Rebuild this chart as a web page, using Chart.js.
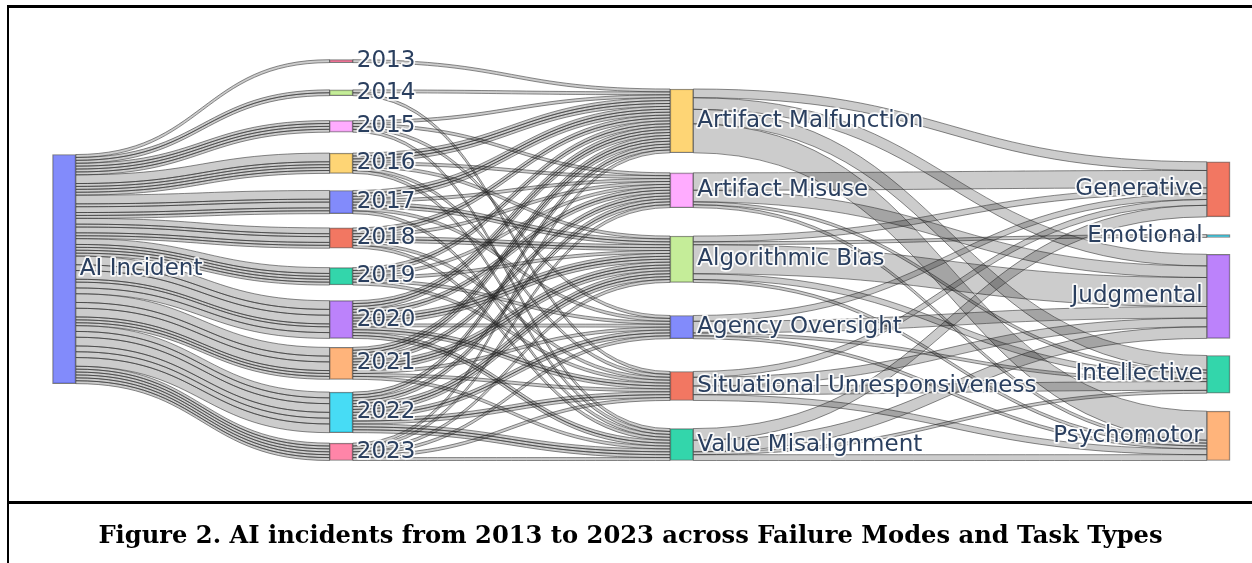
<!DOCTYPE html>
<html>
<head>
<meta charset="utf-8">
<script src="https://cdn.jsdelivr.net/npm/chart.js@4/dist/chart.umd.min.js"></script>
<style>
  html, body { margin: 0; padding: 0; background: #fff; }
  #wrap { position: relative; width: 1252px; height: 563px; overflow: hidden; }
  #chart { position: absolute; left: 0; top: 0; }
  .rule { position: absolute; background: #000; }
  #caption {
    position: absolute; left: 9px; right: 0; top: 520px;
    text-align: center; font: bold 24.2px "DejaVu Serif", serif; color: #000;
  }
</style>
</head>
<body>
<div id="wrap">
  <canvas id="chart" width="1252" height="563"></canvas>
  <div class="rule" style="left:7px; top:5px; width:1245px; height:3px"></div>
  <div class="rule" style="left:7px; top:5px; width:2px; height:558px"></div>
  <div class="rule" style="left:7px; top:501px; width:1245px; height:3px"></div>
  <div id="caption">Figure 2. AI incidents from 2013 to 2023 across Failure Modes and Task Types</div>
</div>
<script>
// --- data (incident counts) ---
const rootLabel = 'AI Incident'
const years = ['2013', '2014', '2015', '2016', '2017', '2018', '2019', '2020', '2021', '2022', '2023']
const failureModes = ['Artifact Malfunction', 'Artifact Misuse', 'Algorithmic Bias', 'Agency Oversight', 'Situational Unresponsiveness', 'Value Misalignment']
const taskTypes = ['Generative', 'Emotional', 'Judgmental', 'Intellective', 'Psychomotor']

// rows = years, cols = failure modes
const yearToFailure = [
  [1, 0, 0, 0, 0, 0],
  [1, 0, 0, 0, 1, 0],
  [1, 1, 0, 1, 0, 1],
  [3, 1, 1, 0, 1, 1],
  [3, 1, 2, 1, 0, 1],
  [2, 1, 2, 0, 1, 1],
  [2, 1, 1, 1, 1, 0],
  [3, 2, 3, 1, 2, 2],
  [3, 2, 3, 1, 1, 1],
  [2, 2, 3, 2, 2, 3],
  [1, 1, 1, 1, 1, 1]
]
// rows = failure modes, cols = task types
const failureToTask = [
  [3, 0, 4, 5, 10],
  [6, 0, 4, 1, 1],
  [2, 1, 10, 2, 1],
  [2, 0, 4, 1, 1],
  [2, 0, 3, 3, 2],
  [4, 0, 4, 1, 2]
]

// --- colours ---
const rootColor = ['#636efa']
const yearColors = ['#ff6692', '#b6e880', '#ff97ff', '#fecb52', '#636efa', '#ef553b', '#00cc96', '#ab63fa', '#ffa15a', '#19d3f3', '#ff6692']
const failureColors = ['#fecb52', '#ff97ff', '#b6e880', '#636efa', '#ef553b', '#00cc96']
const taskColors = ['#ef553b', '#19d3f3', '#ab63fa', '#00cc96', '#ffa15a']

// --- layout (column positions on x scale, spacing between nodes in value units) ---
const colX = [0, 0.24, 0.535, 1]
const colBase = [26.5, 0, 0, 0]
const colGaps = [
  [],
  [9.4, 8.6, 7.2, 5.9, 4.9, 6.7, 5.4, 3.1, 4.4, 3.6],
  [6.9, 9.8, 11.4, 11.3, 9.7],
  [6.1, 5.8, 5.9, 6.2]
]
const nodeWidth = 23.3

function hexA(hex, a) {
  const n = parseInt(hex.slice(1), 16)
  return `rgba(${n >> 16}, ${(n >> 8) & 255}, ${n & 255}, ${a})`
}
const sum = arr => arr.reduce((a, b) => a + b, 0)

// build nodes
const columns = [[], [], [], []]
function addColumn(col, labels, values, colors) {
  labels.forEach((label, i) => {
    columns[col].push({ col, label, value: values[i], color: colors[i], out: [], inc: [] })
  })
}
const yearTotals = yearToFailure.map(sum)
const failureTotals = failureModes.map((_, f) => sum(yearToFailure.map(r => r[f])))
const taskTotals = taskTypes.map((_, t) => sum(failureToTask.map(r => r[t])))
addColumn(0, [rootLabel], [sum(yearTotals)], rootColor)
addColumn(1, years, yearTotals, yearColors)
addColumn(2, failureModes, failureTotals, failureColors)
addColumn(3, taskTypes, taskTotals, taskColors)

// stack each column from the bottom
columns.forEach((nodes, c) => {
  let y = colBase[c]
  for (let i = nodes.length - 1; i >= 0; i--) {
    nodes[i].lo = y
    nodes[i].hi = y + nodes[i].value
    y = nodes[i].hi + (i > 0 ? colGaps[c][i - 1] : 0)
  }
})
const allNodes = columns.flat()
const yMax = Math.max(...columns.map(n => n[0].hi))

// links
const links = []
function link(s, t, v) {
  const l = { s, t, v, k: links.length }
  links.push(l); s.out.push(l); t.inc.push(l)
}
// root -> year: one band per failure mode share
yearToFailure.forEach((row, y) => row.forEach(v => { if (v > 0) link(columns[0][0], columns[1][y], v) }))
// year -> failure mode: one strand per incident
yearToFailure.forEach((row, y) => row.forEach((v, f) => {
  for (let i = 0; i < v; i++) link(columns[1][y], columns[2][f], 1)
}))
// failure mode -> task type
failureToTask.forEach((row, f) => row.forEach((v, t) => { if (v > 0) link(columns[2][f], columns[3][t], v) }))

allNodes.forEach(n => {
  n.out.sort((a, b) => (b.t.hi - a.t.hi) || (a.k - b.k))
  n.inc.sort((a, b) => (b.s.hi - a.s.hi) || (a.k - b.k))
  let y = n.hi
  n.out.forEach(l => { l.sy1 = y; l.sy0 = y - l.v; y -= l.v })
  y = n.hi
  n.inc.forEach(l => { l.ty1 = y; l.ty0 = y - l.v; y -= l.v })
})

const linkPlugin = {
  id: 'sankeyLinks',
  beforeDatasetsDraw(chart) {
    const { ctx, scales: { x, y } } = chart
    ctx.save()
    ctx.fillStyle = 'rgba(0, 0, 0, 0.2)'
    ctx.strokeStyle = 'rgba(45, 45, 45, 0.55)'
    ctx.lineWidth = 1
    links.forEach(l => {
      const x0 = x.getPixelForValue(colX[l.s.col]) + nodeWidth / 2
      const x1 = x.getPixelForValue(colX[l.t.col]) - nodeWidth / 2
      const xm = (x0 + x1) / 2
      const a = y.getPixelForValue(l.sy1), b = y.getPixelForValue(l.ty1)
      const c = y.getPixelForValue(l.sy0), d = y.getPixelForValue(l.ty0)
      ctx.beginPath()
      ctx.moveTo(x0, a)
      ctx.bezierCurveTo(xm, a, xm, b, x1, b)
      ctx.lineTo(x1, d)
      ctx.bezierCurveTo(xm, d, xm, c, x0, c)
      ctx.closePath()
      ctx.fill()
      ctx.stroke()
    })
    ctx.restore()
  }
}

const labelPlugin = {
  id: 'sankeyLabels',
  afterDatasetsDraw(chart) {
    const { ctx, scales: { x, y } } = chart
    ctx.save()
    ctx.font = '23px "DejaVu Sans"'
    ctx.textBaseline = 'middle'
    ctx.lineJoin = 'round'
    allNodes.forEach(n => {
      const cx = x.getPixelForValue(colX[n.col])
      const cy = y.getPixelForValue((n.lo + n.hi) / 2)
      const last = n.col === columns.length - 1
      ctx.textAlign = last ? 'right' : 'left'
      const tx = last ? cx - nodeWidth / 2 - 4 : cx + nodeWidth / 2 + 4
      ctx.strokeStyle = 'rgba(255, 255, 255, 0.9)'
      ctx.lineWidth = 3.5
      ctx.strokeText(n.label, tx, cy)
      ctx.fillStyle = '#2a3f5f'
      ctx.fillText(n.label, tx, cy)
    })
    ctx.restore()
  }
}

new Chart(document.getElementById('chart'), {
  type: 'bar',
  data: {
    datasets: [{
      data: allNodes.map(n => ({ x: colX[n.col], y: [n.lo, n.hi] })),
      backgroundColor: allNodes.map(n => hexA(n.color, 0.8)),
      borderColor: 'rgba(68, 68, 68, 0.7)',
      borderWidth: 1,
      borderSkipped: false,
      barThickness: nodeWidth,
      clip: false
    }]
  },
  options: {
    responsive: false,
    animation: false,
    layout: { padding: { left: 64.2, right: 33.6, top: 59.7, bottom: 102.5 } },
    plugins: { legend: { display: false }, tooltip: { enabled: false } },
    scales: {
      x: { type: 'linear', min: 0, max: 1, offset: false, display: false },
      y: { type: 'linear', min: 0, max: yMax, display: false }
    }
  },
  plugins: [linkPlugin, labelPlugin]
})
</script>
</body>
</html>
